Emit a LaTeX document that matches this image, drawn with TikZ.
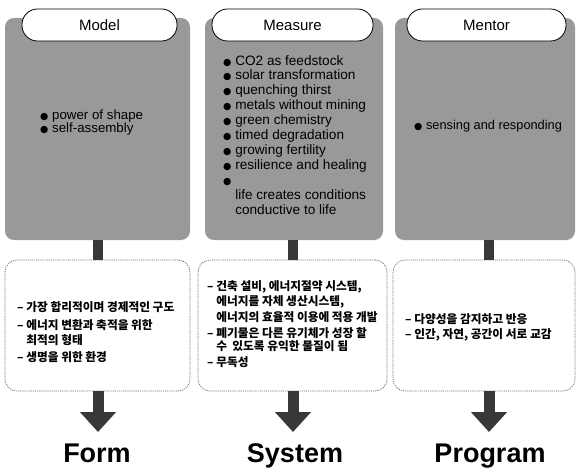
\documentclass[tikz,border=0pt]{standalone}
\usepackage{fontspec}
\setmainfont{Liberation Sans}
\newfontfamily\krfont{Noto Sans CJK KR}
\newfontfamily\djvfont{DejaVu Sans}
\usetikzlibrary{arrows.meta}
\newcommand{\bul}{{\djvfont\fontsize{9.5}{9.5}\selectfont ●}}
\begin{document}
\begin{tikzpicture}[x=1pt,y=-1pt,
  graybox/.style={fill=black!40, rounded corners=9pt, inner sep=0pt, minimum height=222pt},
  pill/.style={draw=black, line width=0.8pt, fill=white, rounded corners=15.5pt, minimum height=32pt, inner sep=0pt, font=\fontsize{15}{15}\selectfont},
  lowbox/.style={draw=black!55, dash pattern=on 1.2pt off 0.9pt, line width=0.7pt, rounded corners=12pt, inner sep=0pt, minimum height=131pt},
  shaft/.style={line width=10pt, draw=black!78},
  bigarrow/.style={line width=11pt, draw=black!78, -{Triangle[width=35pt,length=20pt]}},
  lbl/.style={font=\bfseries\fontsize{27}{27}\selectfont, inner sep=0pt, anchor=base},
  itemtxt/.style={align=left, inner sep=0pt},
  kr/.style={inner sep=0pt, anchor=base west, font=\krfont\bfseries\fontsize{11.7}{14}\selectfont}
]
\useasboundingbox (0,0) rectangle (577,470);

% gray boxes
\node[graybox, minimum width=185pt] (g1) at (97.5,129) {};
\node[graybox, minimum width=178pt] (g2) at (294,129) {};
\node[graybox, minimum width=180pt] (g3) at (485,129) {};

% title pills
\node[pill, minimum width=155pt] (p1) at (99.5,25) {Model};
\node[pill, minimum width=161pt] (p2) at (292.5,25) {Measure};
\node[pill, minimum width=159pt] (p3) at (486.5,25) {Mentor};

% lists in gray boxes
\node[itemtxt, anchor=west, font=\fontsize{13.3}{13}\selectfont] (m1) at (40,122.5) {\bul\ power of shape\\ \bul\ self-assembly};
\node[itemtxt, anchor=north west, font=\fontsize{13.6}{14.9}\selectfont] (m2) at (223,55) {%
\bul\ CO2 as feedstock\\
\bul\ solar transformation\\
\bul\ quenching thirst\\
\bul\ metals without mining\\
\bul\ green chemistry\\
\bul\ timed degradation\\
\bul\ growing fertility\\
\bul\ resilience and healing\\
\bul\\
\phantom{\bul\ }life creates conditions\\
\phantom{\bul\ }conductive to life};
\node[itemtxt, anchor=west, font=\fontsize{12.8}{14}\selectfont] (m3) at (414,126) {\bul\ sensing and responding};

% lower boxes
\node[lowbox, minimum width=185pt] (b1) at (97.5,325.5) {};
\node[lowbox, minimum width=189pt] (b2) at (292.5,325.5) {};
\node[lowbox, minimum width=182pt] (b3) at (484,325.5) {};

% Korean text, one node per line
\node[kr] (k1a) at (17,311) {– 가장 합리적이며 경제적인 구도};
\node[kr] (k1b) at (17,329) {– 에너지 변환과 축적을 위한};
\node[kr] (k1c) at (17,344) {\phantom{– }최적의 형태};
\node[kr] (k1d) at (17,361) {– 생명을 위한 환경};

\node[kr] (k2a) at (207,290) {– 건축 설비, 에너지절약 시스템,};
\node[kr] (k2b) at (207,305) {\phantom{– }에너지를 자체 생산시스템,};
\node[kr] (k2c) at (207,321) {\phantom{– }에너지의 효율적 이용에 적용 개발};
\node[kr] (k2d) at (207,337) {– 폐기물은 다른 유기체가 성장 할};
\node[kr] (k2e) at (207,350.5) {\phantom{– }수 \ 있도록 유익한 물질이 됨};
\node[kr] (k2f) at (207,366) {– 무독성};

\node[kr] (k3a) at (405,323.5) {– 다양성을 감지하고 반응};
\node[kr] (k3b) at (405,338.5) {– 인간, 자연, 공간이 서로 교감};

% bottom labels and arrow tips
\node[lbl] (l1) at (97,462) {Form};
\node[lbl] (l2) at (295,462) {System};
\node[lbl] (l3) at (490,462) {Program};
\coordinate (t1) at (98,432);
\coordinate (t2) at (293,432);
\coordinate (t3) at (489,432);

% connectors
\draw[shaft] (g1.south -| t1) -- (b1.north -| t1);
\draw[shaft] (g2.south -| t2) -- (b2.north -| t2);
\draw[shaft] (g3.south -| t3) -- (b3.north -| t3);
\draw[bigarrow] (b1.south -| t1) -- (t1);
\draw[bigarrow] (b2.south -| t2) -- (t2);
\draw[bigarrow] (b3.south -| t3) -- (t3);
\end{tikzpicture}
\end{document}
